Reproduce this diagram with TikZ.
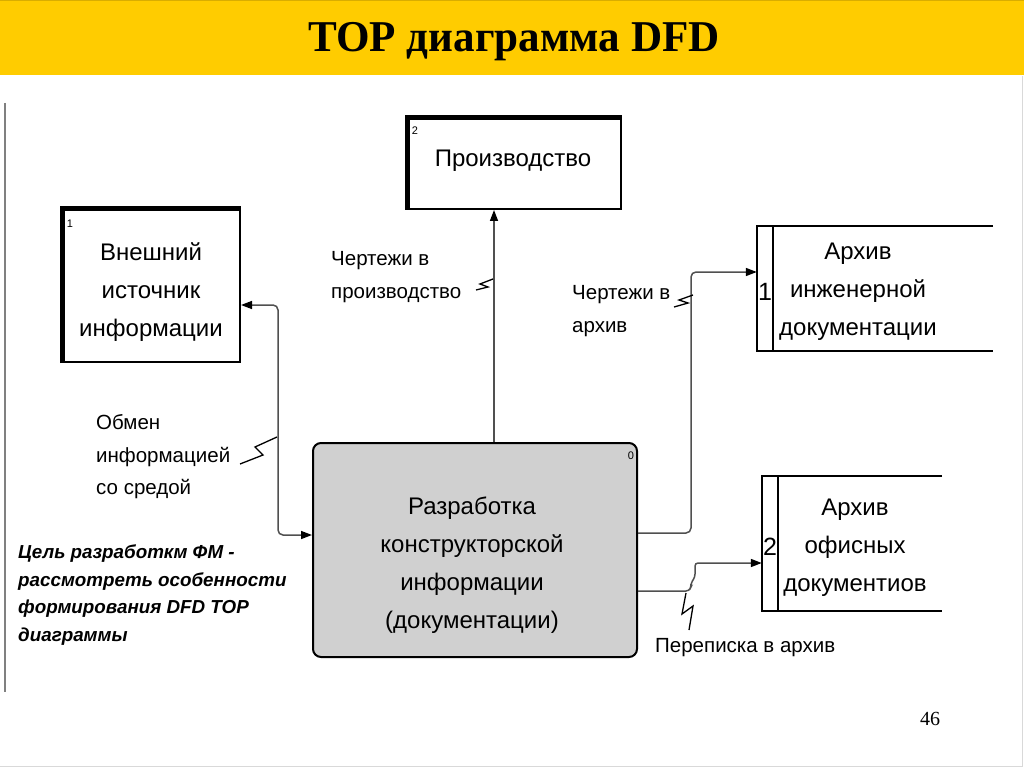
\documentclass[tikz,border=0pt]{standalone}
\usepackage{fontspec}
\setmainfont{Liberation Sans}
\newfontfamily\titlefont{Liberation Serif}
\usetikzlibrary{arrows.meta}
\definecolor{bandyellow}{HTML}{FFCC00}
\definecolor{procgray}{HTML}{D0D0D0}
\definecolor{linegray}{HTML}{505050}
\tikzset{
  boxtext/.style={font=\fontsize{24}{38}\selectfont, align=center, inner sep=0pt},
  lbltext/.style={font=\fontsize{20.5}{32.5}\selectfont, align=left, inner sep=0pt, anchor=west},
  numtext/.style={font=\fontsize{11}{13}\selectfont, inner sep=0pt},
  extent/.style={draw=black, line width=2pt, inner sep=0pt},
  flow/.style={draw=linegray, line width=1.5pt, -{Triangle[length=11pt,width=8pt,color=black]}},
  zig/.style={draw=black, line width=1.3pt, line join=miter},
}
\begin{document}
\begin{tikzpicture}[x=1pt,y=-1pt]
\useasboundingbox (0,0) rectangle (1024,767);
% header band
\fill[bandyellow] (0,0) rectangle (1024,75);
\draw[bandyellow!85!black, line width=1pt] (0,0.5) -- (1024,0.5);
\node[font=\titlefont\bfseries\fontsize{44}{50}\selectfont, inner sep=0pt, xscale=0.98] (title) at (514,42) {TOP диаграмма DFD};
% frame lines
\draw[gray, line width=1.2pt] (5,103) -- (5,692);
\draw[black!15, line width=1pt] (1022,76) -- (1022,766) -- (0,766);

% external entity 1
\node[extent, minimum width=177pt, minimum height=152pt] (src) at (151.5,286) {};
\draw[line width=5pt] (src.south west) -- (src.north west) -- (src.north east);
\node[boxtext] (srct) at (151,292) {Внешний\\источник\\информации};
\node[numtext] (srcn) at (70,224) {1};

% external entity 2
\node[extent, minimum width=213pt, minimum height=90pt] (prod) at (514.5,164) {};
\draw[line width=5pt] (prod.south west) -- (prod.north west) -- (prod.north east);
\node[boxtext] (prodt) at (513,161) {Производство};
\node[numtext] (prodn) at (415,131) {2};

% process
\node[draw=black, line width=2pt, fill=procgray, rounded corners=8pt, minimum width=324pt, minimum height=214pt, inner sep=0pt] (proc) at (475,550) {};
\node[boxtext] (proct) at (472,565) {Разработка\\конструкторской\\информации\\(документации)};
\node[numtext] (procn) at (631,456) {0};

% data store 1
\node[minimum width=236pt, minimum height=125pt, inner sep=0pt] (a1) at (875,288.5) {};
\draw[line width=2pt] (a1.north east) -- (a1.north west) -- (a1.south west) -- (a1.south east);
\draw[line width=2pt] ([xshift=16pt]a1.north west) -- ([xshift=16pt]a1.south west);
\node[boxtext] (a1t) at (858,292) {Архив\\инженерной\\документации};
\node[boxtext, font=\fontsize{25}{30}\selectfont] (a1n) at (765,292) {1};

% data store 2
\node[minimum width=180pt, minimum height=135pt, inner sep=0pt] (a2) at (852,543.5) {};
\draw[line width=2pt] (a2.north east) -- (a2.north west) -- (a2.south west) -- (a2.south east);
\draw[line width=2pt] ([xshift=16pt]a2.north west) -- ([xshift=16pt]a2.south west);
\node[boxtext] (a2t) at (855,548) {Архив\\офисных\\документиов};
\node[boxtext, font=\fontsize{25}{30}\selectfont] (a2n) at (770,547) {2};

% flows
\draw[flow] ([xshift=19pt]proc.north) -- ([xshift=19pt]proc.north |- prod.south);
\draw[flow, {Triangle[length=11pt,width=8pt,color=black]}-{Triangle[length=11pt,width=8pt,color=black]}, rounded corners=5pt]
  ([yshift=-19pt]src.east) -- ++(37,0) |- ([yshift=15pt]proc.west);
\draw[flow, rounded corners=5pt] ([yshift=17pt]proc.east) -- ++(53,0) |- ([yshift=16.5pt]a1.west);
\draw[flow, rounded corners=3pt] ([yshift=-41pt]proc.east) -- ++(51,0) -- ++(2,-4) -- ++(0,-4) -- ++(4,-6) |- ([yshift=-19.5pt]a2.west);

% labels
\node[lbltext] (l1) at (331,277) {Чертежи в\\производство};
\node[lbltext] (l2) at (572,311) {Чертежи в\\архив};
\node[lbltext] (l3) at (96,457) {Обмен\\информацией\\со средой};
\node[lbltext] (l4) at (655,648) {Переписка в архив};

% label zigzags
\coordinate (z1) at (493,279);
\draw[zig] (z1) -- (480,284) -- (488,287) -- (476,290);
\coordinate (z2) at (693,295);
\draw[zig] (z2) -- (679,300) -- (688,303) -- (674,307);
\coordinate (z3) at (277,437);
\draw[zig] (z3) -- (255,447) -- (263,455) -- (240,464);
\coordinate (z4) at (686,593);
\draw[zig] (z4) -- (682,614) -- (693,606) -- (689,630);

% goal text
\node[font=\bfseries\itshape\fontsize{18.8}{27.5}\selectfont, align=left, anchor=west, inner sep=0pt] (goal) at (18,595)
  {Цель разработкм ФМ -\\рассмотреть особенности\\формирования DFD TOP\\диаграммы};

% page number
\node[font=\titlefont\fontsize{20}{24}\selectfont, inner sep=0pt] (pnum) at (930,719) {46};
\end{tikzpicture}
\end{document}
